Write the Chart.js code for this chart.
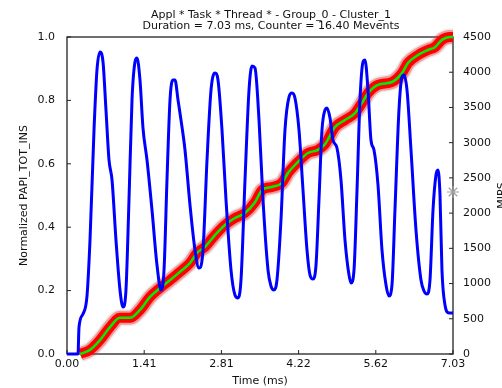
<!DOCTYPE html>
<html>
<head>
<meta charset="utf-8">
<script src="https://cdn.jsdelivr.net/npm/chart.js@4.4.1/dist/chart.umd.min.js"></script>
<style>
  html, body { margin:0; padding:0; background:#fff; }
  canvas { display:block; }
</style>
</head>
<body>
<canvas id="perfChart" width="502" height="388"></canvas>
<script>
// time axis (ms)
const timeTicks = [0, 1.406, 2.812, 4.218, 5.624, 7.03];
const timeTickLabels = ['0.00', '1.41', '2.81', '4.22', '5.62', '7.03'];

// MIPS curve (right axis)
const mipsTime = [0, 0.200, 0.219, 0.291, 0.364, 0.419, 0.492, 0.546, 0.601, 0.656,
  0.710, 0.765, 0.820, 0.892, 0.965, 1.020, 1.074, 1.129, 1.184, 1.238,
  1.275, 1.329, 1.384, 1.457, 1.548, 1.639, 1.712, 1.767, 1.821, 1.876,
  1.930, 1.967, 2.022, 2.076, 2.149, 2.240, 2.331, 2.404, 2.477, 2.550,
  2.623, 2.695, 2.750, 2.823, 2.896, 2.987, 3.059, 3.114, 3.169, 3.242,
  3.315, 3.369, 3.424, 3.497, 3.570, 3.661, 3.715, 3.770, 3.824, 3.897,
  3.970, 4.043, 4.098, 4.152, 4.225, 4.298, 4.371, 4.426, 4.480, 4.535,
  4.589, 4.644, 4.699, 4.735, 4.790, 4.844, 4.917, 4.990, 5.063, 5.136,
  5.173, 5.227, 5.282, 5.336, 5.391, 5.427, 5.482, 5.536, 5.591, 5.664,
  5.737, 5.810, 5.864, 5.919, 5.973, 6.046, 6.101, 6.137, 6.192, 6.265,
  6.356, 6.447, 6.502, 6.556, 6.611, 6.666, 6.720, 6.757, 6.793, 6.829,
  6.884, 6.957, 7.03];
const mipsValues = [0, 0, 383, 568, 823, 1618, 3180, 4032, 4287, 4145,
  3464, 2754, 2470, 1618, 909, 667, 909, 2186, 3606, 4145,
  4202, 3890, 3208, 2754, 2044, 1263, 909, 1192, 2470, 3606,
  3890, 3890, 3606, 3322, 2896, 2115, 1476, 1221, 1476, 2754,
  3748, 3989, 3890, 3180, 2186, 1192, 838, 795, 1051, 2470,
  3748, 4088, 4060, 3322, 2186, 1192, 965, 909, 1051, 1902,
  3180, 3648, 3705, 3634, 3180, 2328, 1476, 1121, 1065, 1263,
  2186, 3180, 3464, 3492, 3350, 3038, 2924, 2470, 1618, 1121,
  1008, 1192, 2328, 3606, 4145, 4174, 3748, 3038, 2896, 2399,
  1476, 980, 823, 980, 2044, 3464, 3932, 3961, 3748, 2896,
  1760, 1051, 894, 852, 1051, 2044, 2541, 2612, 2257, 1192,
  696, 582, 582];

// normalized PAPI_TOT_INS (left axis)
const insTime = [0.237, 0.419, 0.601, 0.783, 0.965, 1.147, 1.329, 1.512, 1.694, 1.876,
  2.058, 2.240, 2.368, 2.513, 2.695, 2.877, 3.059, 3.242, 3.424, 3.551,
  3.733, 3.916, 4.025, 4.207, 4.389, 4.571, 4.699, 4.881, 5.063, 5.245,
  5.373, 5.482, 5.664, 5.919, 6.101, 6.210, 6.392, 6.574, 6.702, 6.829,
  6.975, 7.03];
const insValues = [0, 0.013, 0.044, 0.085, 0.114, 0.114, 0.139, 0.180, 0.208, 0.233,
  0.259, 0.287, 0.319, 0.338, 0.375, 0.407, 0.429, 0.445, 0.479, 0.517,
  0.527, 0.540, 0.571, 0.606, 0.634, 0.644, 0.662, 0.716, 0.738, 0.760,
  0.792, 0.823, 0.849, 0.858, 0.886, 0.918, 0.943, 0.959, 0.968, 0.991,
  1.0, 1.0];

// average MIPS marker on the right axis
const avgMipsTime = [7.03];
const avgMipsValue = [2300];

const titleLines = ['Appl * Task * Thread * - Group_0 - Cluster_1', 'Duration = 7.03 ms, Counter = 16.40 Mevents'];

const FONT = "'DejaVu Sans', sans-serif";
Chart.defaults.font.family = FONT;
Chart.defaults.font.size = 11;
Chart.defaults.color = '#111';

const pts = (xs, ys) => xs.map((x, i) => ({ x, y: ys[i] }));
const insPts = pts(insTime, insValues);

const frameAndText = {
  id: 'frameAndText',
  beforeDatasetsDraw(chart){
    const { ctx, chartArea: a, scales } = chart;
    ctx.save();
    ctx.strokeStyle = '#222';
    ctx.lineWidth = 1.3;
    ctx.strokeRect(a.left, a.top, a.right - a.left, a.bottom - a.top);
    ctx.lineWidth = 1;
    ctx.beginPath();
    scales.x.ticks.forEach((t, i) => { const p = scales.x.getPixelForTick(i); ctx.moveTo(p, a.bottom); ctx.lineTo(p, a.bottom - 4); });
    scales.y.ticks.forEach((t, i) => { const p = scales.y.getPixelForTick(i); ctx.moveTo(a.left, p); ctx.lineTo(a.left + 4, p); });
    scales.y1.ticks.forEach((t, i) => { const p = scales.y1.getPixelForTick(i); ctx.moveTo(a.right, p); ctx.lineTo(a.right - 4, p); });
    ctx.stroke();
    ctx.restore();
  },
  afterDraw(chart){
    const { ctx, chartArea: a } = chart;
    ctx.save();
    ctx.fillStyle = '#111';
    ctx.font = '11px ' + FONT;
    ctx.textAlign = 'center';
    ctx.textBaseline = 'middle';
    ctx.fillText(titleLines[0], 271, 15);
    ctx.fillText(titleLines[1], 271, 26);
    ctx.translate(502, (a.top + a.bottom) / 2);
    ctx.rotate(-Math.PI / 2);
    ctx.fillText('MIPS', 0, 0);
    ctx.restore();
  }
};

new Chart(document.getElementById('perfChart').getContext('2d'), {
  type: 'scatter',
  data: { datasets: [
    { label:'MIPS', data: pts(mipsTime, mipsValues), yAxisID:'y1', showLine:true, borderColor:'#0000ff', borderWidth:3, pointRadius:0, cubicInterpolationMode:'monotone', clip:false },
    { label:'avg', data: pts(avgMipsTime, avgMipsValue), yAxisID:'y1', pointStyle:'star', pointRadius:6, borderColor:'#a0a0a0', borderWidth:1.2, clip:false },
    { label:'fit', data: insPts, yAxisID:'y', showLine:true, borderColor:'#00ee00', borderWidth:2.5, pointRadius:0, cubicInterpolationMode:'monotone', clip:false },
    { label:'samples', data: insPts, yAxisID:'y', showLine:true, borderColor:'#ff0000', borderWidth:10, pointRadius:0, cubicInterpolationMode:'monotone', clip:false },
    { label:'samples halo', data: insPts, yAxisID:'y', showLine:true, borderColor:'rgba(255,0,0,0.35)', borderWidth:14, pointRadius:0, cubicInterpolationMode:'monotone', clip:false },
    { label:'samples edge', data: insPts, yAxisID:'y', showLine:true, borderColor:'rgba(150,150,150,0.18)', borderWidth:17, pointRadius:0, cubicInterpolationMode:'monotone', clip:false }
  ]},
  options: {
    responsive:false, animation:false, events:[],
    layout:{ padding:{ top:37, left:0, right:0, bottom:0 } },
    plugins:{ legend:{ display:false }, tooltip:{ enabled:false } },
    scales:{
      x:{
        type:'linear', min:0, max:7.03,
        afterFit(s){ s.height = 34; },
        afterBuildTicks(s){ s.ticks = timeTicks.map(v => ({ value:v })); },
        grid:{ display:false, drawTicks:false }, border:{ display:false },
        ticks:{ padding:4, autoSkip:false, maxRotation:0, callback:(v, i) => timeTickLabels[i] },
        title:{ display:true, text:'Time (ms)', padding:{ top:0, bottom:0 } }
      },
      y:{
        position:'left', min:0, max:1,
        afterFit(s){ s.width = 67; },
        grid:{ display:false, drawTicks:false }, border:{ display:false },
        ticks:{ stepSize:0.2, padding:12, callback:v => v.toFixed(1) },
        title:{ display:true, text:'Normalized PAPI_TOT_INS', padding:{ top:18, bottom:0 } }
      },
      y1:{
        position:'right', min:0, max:4500,
        afterFit(s){ s.width = 49; },
        grid:{ display:false, drawTicks:false }, border:{ display:false },
        ticks:{ stepSize:500, padding:10, callback:v => String(v) }
      }
    }
  },
  plugins:[frameAndText]
});
</script>
</body>
</html>
